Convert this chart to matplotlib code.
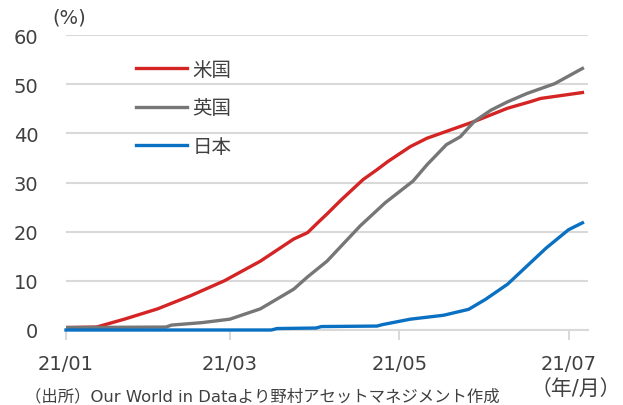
import numpy as np
import pandas as pd
import matplotlib
matplotlib.use('Agg')
import matplotlib.pyplot as plt
import matplotlib.dates as mdates

plt.rcParams['font.family'] = ['DejaVu Sans', 'Noto Sans CJK JP']

# values (%)
us_dates = ['2021-01-01', '2021-01-12', '2021-01-22', '2021-02-03', '2021-02-15',
            '2021-02-27', '2021-03-12', '2021-03-24', '2021-03-29', '2021-04-02',
            '2021-04-05', '2021-04-10', '2021-04-18', '2021-04-23', '2021-04-27',
            '2021-05-05', '2021-05-11', '2021-05-17', '2021-05-28', '2021-06-09',
            '2021-06-17', '2021-06-21', '2021-07-06']
us_vals = [0.5, 0.6, 2.2, 4.3, 7.0, 10.0, 14.0, 18.5, 19.8, 22.0, 23.6, 26.4,
           30.6, 32.6, 34.3, 37.3, 39.0, 40.2, 42.4, 45.1, 46.4, 47.1, 48.3]

uk_dates = ['2021-01-01', '2021-02-06', '2021-02-08', '2021-02-19', '2021-03-01',
            '2021-03-12', '2021-03-24', '2021-03-29', '2021-04-05', '2021-04-17',
            '2021-04-26', '2021-05-06', '2021-05-11', '2021-05-18', '2021-05-23',
            '2021-05-28', '2021-06-03', '2021-06-09', '2021-06-16', '2021-06-26',
            '2021-07-06']
uk_vals = [0.5, 0.6, 1.0, 1.5, 2.2, 4.3, 8.3, 10.8, 14.0, 21.2, 25.9, 30.3,
           33.6, 37.7, 39.3, 42.4, 44.7, 46.4, 48.1, 50.1, 53.2]

jp_dates = ['2021-01-01', '2021-03-16', '2021-03-18', '2021-04-01', '2021-04-03',
            '2021-04-23', '2021-04-25', '2021-05-05', '2021-05-17', '2021-05-26',
            '2021-06-01', '2021-06-09', '2021-06-16', '2021-06-23', '2021-07-01',
            '2021-07-06']
jp_vals = [0.0, 0.0, 0.3, 0.4, 0.7, 0.8, 1.1, 2.2, 3.0, 4.2, 6.2, 9.3, 13.0,
           16.7, 20.4, 21.8]

labels = ['米国', '英国', '日本']
xtick_dates = ['2021-01-01', '2021-03-01', '2021-05-01', '2021-07-01']

red = '#d42424'
gray = '#767676'
blue = '#0a70c2'
txt = '#404040'
grid = '#d9d9d9'

fig = plt.figure(figsize=(6.23, 4.06), dpi=100)
ax = fig.add_axes([66/623, 1-331/406, (588-66)/623, (331-36)/406])

ax.plot(pd.to_datetime(us_dates), us_vals, color=red, lw=2.4, label=labels[0], zorder=3)
ax.plot(pd.to_datetime(uk_dates), uk_vals, color=gray, lw=2.4, label=labels[1], zorder=3)
ax.plot(pd.to_datetime(jp_dates), jp_vals, color=blue, lw=2.4, label=labels[2], zorder=4,
        clip_on=False)

ax.set_ylim(0, 60)
ax.set_yticks(np.arange(0, 61, 10))
ax.set_xlim(pd.Timestamp('2021-01-01'), pd.Timestamp('2021-07-08'))
ax.set_xticks(pd.to_datetime(xtick_dates))
ax.xaxis.set_major_formatter(mdates.DateFormatter('%y/%m'))

ax.grid(axis='y', color=grid, lw=1.5)
ax.set_axisbelow(True)
for s in ['top', 'right', 'left']:
    ax.spines[s].set_visible(False)
ax.spines['bottom'].set_color(grid)
ax.spines['bottom'].set_linewidth(1.5)
ax.tick_params(axis='y', length=0, pad=20, labelsize=14, labelcolor=txt)
ax.tick_params(axis='x', length=7, width=1.5, color=grid, pad=10, labelsize=14,
               labelcolor=txt)

leg = ax.legend(loc='upper left', bbox_to_anchor=(136/623, 1-61/406),
                bbox_transform=fig.transFigure, frameon=False, fontsize=14,
                handlelength=2.6, handletextpad=0.3, labelspacing=1.0,
                borderpad=0, borderaxespad=0)
for t in leg.get_texts():
    t.set_color(txt)

fig.text(69/623, 1-18/406, '(%)', ha='center', va='center', fontsize=14, color=txt)
fig.text(576/623, 1-389/406, '（年/月）', ha='center', va='center', fontsize=15, color=txt)
fig.text(25/623, 1-397/406, '（出所）Our World in Dataより野村アセットマネジメント作成',
         ha='left', va='center', fontsize=11.8, color=txt)

fig.savefig('out.png', dpi=100)
